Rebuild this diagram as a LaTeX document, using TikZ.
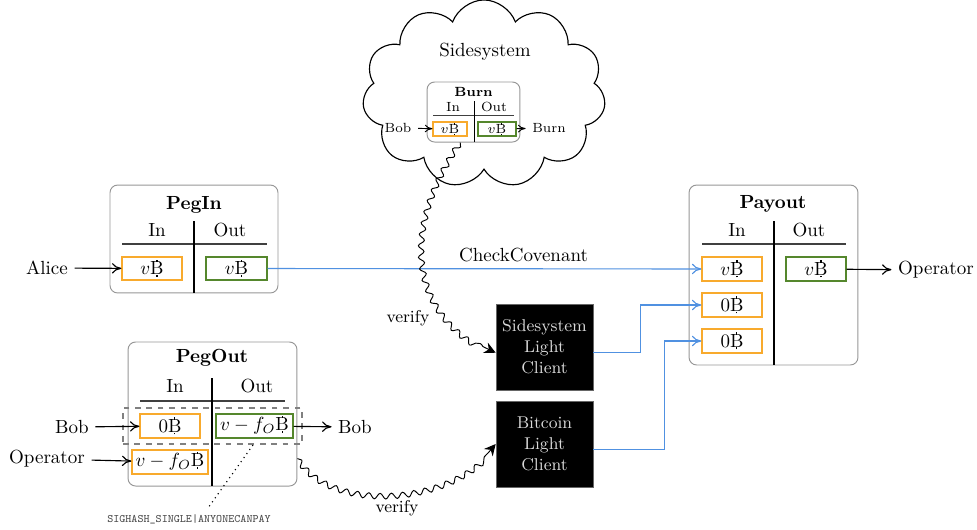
\documentclass[tikz,border=0pt]{standalone}
\usepackage{amsmath}
\usetikzlibrary{arrows.meta,shapes.symbols,decorations.pathmorphing,calc}
\newcommand{\btc}{\ooalign{B\cr\hidewidth\rule[-0.1em]{0.06em}{0.1em}\hidewidth\cr\hidewidth\rule[0.68em]{0.06em}{0.12em}\hidewidth\cr}}
\definecolor{inorange}{RGB}{248,170,45}
\definecolor{outgreen}{RGB}{85,135,45}
\definecolor{linkblue}{RGB}{80,145,225}
\definecolor{boxgray}{RGB}{150,150,150}
\begin{document}
\begin{tikzpicture}[x=0.5263pt,y=-0.5263pt,
  txbox/.style={draw=boxgray, rounded corners=4pt, line width=0.5pt, inner sep=0pt},
  inbox/.style={draw=inorange, line width=0.6pt, inner sep=0pt},
  outbox/.style={draw=outgreen, line width=0.6pt, inner sep=0pt},
  tblrule/.style={line width=0.7pt, black!75},
  tblvrule/.style={line width=0.6pt, black},
  blk/.style={-{To[length=5pt,width=5.5pt]}, line width=0.6pt, black},
  bluearr/.style={-{To[length=5pt,width=5.5pt]}, line width=0.6pt, linkblue},
  wavy/.style={-{Stealth[length=6pt,width=6pt,inset=2pt]}, line width=0.5pt,
     decorate, decoration={snake, amplitude=1.5pt, segment length=6pt, post length=6pt}},
  lcbox/.style={fill=black, draw=black!60, text=white!85!black, font=\small, align=center,
     minimum width=51pt, minimum height=45.3pt, inner sep=0pt},
  pbox/.style={minimum width=31.6pt, minimum height=12.6pt}
]
\useasboundingbox (0,0) rectangle (977,529);

% ---------- Sidesystem cloud ----------
\node[cloud, draw, line width=0.6pt, cloud puffs=11, cloud puff arc=140, cloud ignores aspect,
      minimum width=128pt, minimum height=99pt] (cloud) at (484,94) {};
\node (sidesys) at (485,52) {Sidesystem};
\node[txbox, minimum width=48.9pt, minimum height=31.6pt] (burn) at (473.5,112) {};
\begin{scope}[font=\scriptsize]
\node[font=\scriptsize\bfseries] (burntitle) at (473.5,92) {Burn};
\node (burnin) at (453,107) {In};
\node (burnout) at (494,107) {Out};
\draw[tblrule, line width=0.5pt] (433,115) -- (514,115);
\draw[tblvrule, line width=0.5pt] (474,101) -- (474,142);
\node[inbox, minimum width=17.9pt, minimum height=7.4pt] (burnv) at (450,129) {$v$\btc};
\node[outbox, minimum width=20pt, minimum height=7.4pt] (burnvo) at (497,129) {$v$\btc};
\node (burnbob) at (398,128) {Bob};
\node (burnto) at (549,128) {Burn};
\end{scope}
\draw[blk, line width=0.5pt, -{To[length=4pt,width=4pt]}] (burnbob) -- (burnv);
\draw[blk, line width=0.5pt, -{To[length=4pt,width=4pt]}] (burnvo) -- (burnto);

% ---------- PegIn ----------
\node[txbox, minimum width=88.4pt, minimum height=56.8pt] (pegin) at (194,239) {};
\node[font=\bfseries] (pegintitle) at (194,205) {PegIn};
\node (peginin) at (157,230) {In};
\node (peginout) at (230,230) {Out};
\draw[tblrule] (122,244) -- (267,244);
\draw[tblvrule] (194,221) -- (194,293);
\node[inbox, pbox, minimum height=12.1pt] (peginv) at (152,268.5) {$v$\btc};
\node[outbox, pbox, minimum width=32.1pt, minimum height=12.1pt] (pegoutv) at (236.5,268.5) {$v$\btc};
\node (alice) at (47,268) {Alice};
\draw[blk] (alice) -- (peginv);

% ---------- Payout ----------
\node[txbox, minimum width=88.9pt, minimum height=94.7pt] (payout) at (773.5,275) {};
\node[font=\bfseries] (payouttitle) at (773,204) {Payout};
\node (payin) at (737,230) {In};
\node (payoutcol) at (809,230) {Out};
\draw[tblrule] (702,244) -- (846,244);
\draw[tblvrule] (774,221) -- (774,365);
\node[inbox, pbox] (payina) at (732,269) {$v$\btc};
\node[inbox, pbox] (payinb) at (732,305) {$0$\btc};
\node[inbox, pbox] (payinc) at (732,341) {$0$\btc};
\node[outbox, pbox] (payouta) at (816,269) {$v$\btc};
\node (operator) at (936,270) {Operator};
\draw[blk] (payouta) -- (operator);

% ---------- PegOut ----------
\node[txbox, minimum width=88.9pt, minimum height=75.8pt] (pegout) at (212.5,414) {};
\node[font=\bfseries] (pegouttitle) at (212,358) {PegOut};
\node (pegoutin) at (175,386) {In};
\node (pegoutout) at (257,386) {Out};
\draw[tblrule] (140,401) -- (285,401);
\draw[tblvrule] (212,378) -- (212,486);
\node[draw=black!50, dashed, line width=0.6pt, minimum width=94.2pt, minimum height=18.9pt, inner sep=0pt] (sigbox) at (212.5,426) {};
\node[inbox, pbox] (pegoutzero) at (170,426) {$0$\btc};
\node[outbox, pbox, minimum width=40.5pt] (pegoutv2) at (254.5,426) {$v-f_O$\btc};
\node[inbox, pbox, minimum width=40pt] (pegoutop) at (170,462) {$v-f_O$\btc};
\node (bobin) at (72,427) {Bob};
\node (opin) at (47,459) {Operator};
\node (bobout) at (355,427) {Bob};
\draw[blk] (bobin) -- (pegoutzero);
\draw[blk] (opin) -- (pegoutop);
\draw[blk] (pegoutv2) -- (bobout);
\coordinate (sigstart) at (253,445);
\coordinate (sigend) at (208,508);
\node[font=\fontsize{6}{7}\selectfont\ttfamily, text=black!70] (siglabel) at (189,519) {SIGHASH\_SINGLE|ANYONECANPAY};
\draw[dotted, line width=0.6pt] (sigstart) -- (sigend);

% ---------- Light clients ----------
\node[lcbox] (slc) at (544.5,347) {Sidesystem\\Light\\Client};
\node[lcbox] (blc) at (544.5,444) {Bitcoin\\Light\\Client};

% ---------- Connectors ----------
\draw[bluearr] (pegoutv) -- node[pos=0.59, above=0pt, text=black] (checkcov) {CheckCovenant} (payina);
\draw[bluearr] ([yshift=-3pt]slc.east) -- ++(47,0) |- (payinb.west);
\draw[bluearr] ([yshift=-3pt]blc.east) -- ++(71,0) |- (payinc.west);

\draw[wavy] ([xshift=-7pt]burn.south) .. controls (395,240) and (420,320) .. ([yshift=-3pt]slc.west);
\node[font=\small] (verify1) at (408,318) {verify};
\draw[wavy] ([yshift=14.7pt]pegout.south east) .. controls (330,510) and (450,505) .. (blc.west);
\node[font=\small] (verify2) at (397,508) {verify};
\end{tikzpicture}
\end{document}
